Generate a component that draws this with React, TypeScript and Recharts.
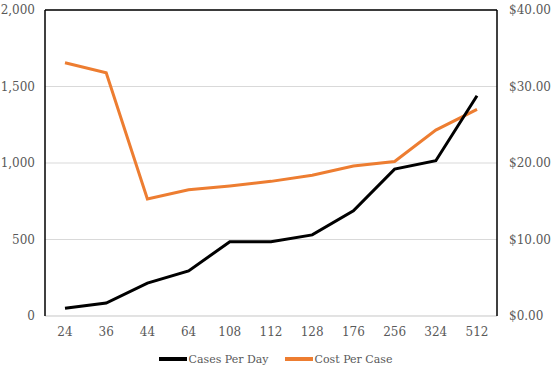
import { LineChart, Line, XAxis, YAxis, CartesianGrid, ReferenceLine, Legend } from 'recharts'

const categories = ['24', '36', '44', '64', '108', '112', '128', '176', '256', '324', '512']
const casesPerDay = [50, 85, 215, 295, 485, 485, 530, 687, 960, 1015, 1440]
const costPerCase = [33.1, 31.8, 15.3, 16.5, 17.0, 17.6, 18.4, 19.6, 20.2, 24.3, 27.0]
const leftTicks = [0, 500, 1000, 1500, 2000]
const rightTicks = [0, 10, 20, 30, 40]

const data = categories.map((c, i) => ({ cat: c, cases: casesPerDay[i], cost: costPerCase[i] }))

const FONT = 'DejaVu Serif'
const TEXT = '#595959'
const ORANGE = '#ED7D31'

function LegendBox() {
  const item = (color: string, label: string) => (
    <div style={{ display: 'flex', alignItems: 'center', margin: '0 8px' }}>
      <div style={{ width: 28, height: 3.5, background: color, marginRight: 2 }} />
      <span>{label}</span>
    </div>
  )
  return (
    <div style={{ display: 'flex', justifyContent: 'center', fontFamily: FONT, fontSize: 11, color: TEXT, height: 20, alignItems: 'center' }}>
      {item('#000', 'Cases Per Day')}
      {item(ORANGE, 'Cost Per Case')}
    </div>
  )
}

export default function App() {
  return (
    <div style={{ width: 551, height: 373, background: '#fff' }}>
      <style>{'body{margin:0}'}</style>
      <LineChart width={551} height={373} data={data} margin={{ top: 10, right: 0, bottom: 4, left: 0 }}>
        <CartesianGrid vertical={false} stroke="#d9d9d9" yAxisId="left" />
        <XAxis
          dataKey="cat"
          height={33}
          padding={{ left: 20, right: 20 }}
          tickLine={false}
          axisLine={{ stroke: '#d9d9d9' }}
          tick={{ fill: TEXT, fontSize: 12, fontFamily: FONT }}
          tickSize={6}
          tickMargin={5}
        />
        <YAxis
          yAxisId="left"
          width={45}
          domain={[0, 2000]}
          ticks={leftTicks}
          tickFormatter={(v: number) => v.toLocaleString('en-US')}
          tickLine={false}
          axisLine={{ stroke: '#000', strokeWidth: 1.5 }}
          tick={{ fill: TEXT, fontSize: 12, fontFamily: FONT }}
          tickSize={6}
          tickMargin={4}
        />
        <YAxis
          yAxisId="right"
          orientation="right"
          width={54}
          domain={[0, 40]}
          ticks={rightTicks}
          tickFormatter={(v: number) => '$' + v.toFixed(2)}
          tickLine={false}
          axisLine={{ stroke: '#000', strokeWidth: 1.5 }}
          tick={{ fill: TEXT, fontSize: 12, fontFamily: FONT, textAnchor: 'start' }}
          tickSize={6}
          tickMargin={6}
        />
        <ReferenceLine yAxisId="left" y={2000} stroke="#000" strokeWidth={1.5} />
        <Legend verticalAlign="bottom" content={<LegendBox />} />
        <Line yAxisId="right" dataKey="cost" stroke={ORANGE} strokeWidth={3} dot={false} isAnimationActive={false} />
        <Line yAxisId="left" dataKey="cases" stroke="#000" strokeWidth={3} dot={false} isAnimationActive={false} />
      </LineChart>
    </div>
  )
}
